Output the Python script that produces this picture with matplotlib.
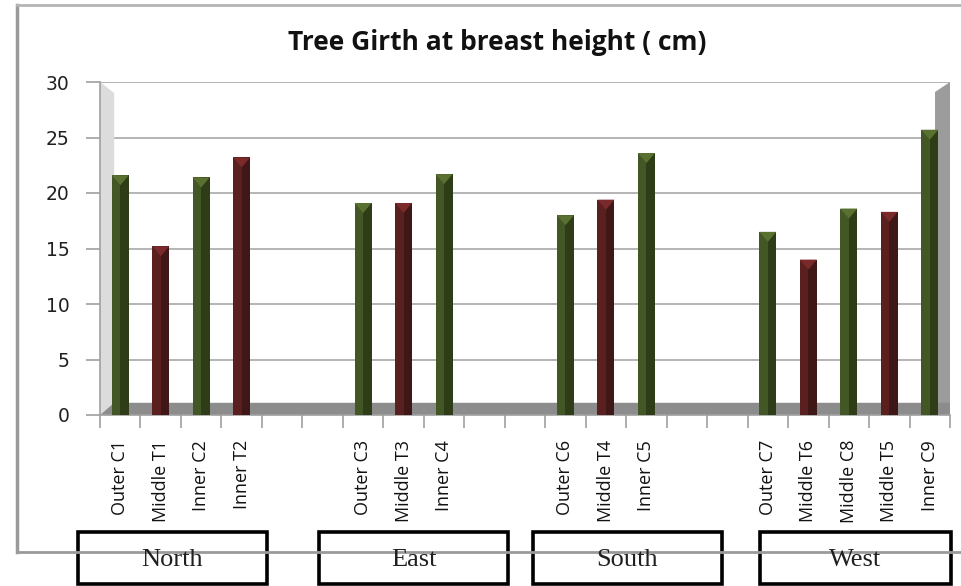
import matplotlib.pyplot as plt
from matplotlib.patches import Rectangle, Polygon
from matplotlib.lines import Line2D

# data
labels = ["Outer C1", "Middle T1", "Inner C2", "Inner T2", "", "",
          "Outer C3", "Middle T3", "Inner C4", "", "",
          "Outer C6", "Middle T4", "Inner C5", "", "",
          "Outer C7", "Middle T6", "Middle C8", "Middle T5", "Inner C9"]
girth = [21.6, 15.2, 21.4, 23.2, None, None,
         19.1, 19.1, 21.7, None, None,
         18.0, 19.4, 23.6, None, None,
         16.5, 14.0, 18.6, 18.3, 25.7]
regions = ["North", "East", "South", "West"]
region_px = [(78, 267), (319, 508), (533, 722), (760, 951)]

W, H = 961, 586
fig = plt.figure(figsize=(W / 100, H / 100), dpi=100)

def fx(px):
    return px / W

def fy(py):
    return 1 - py / H

# outer chart border
fig.add_artist(Line2D([fx(17), fx(17)], [fy(5), fy(552)], color="#9a9a9a", lw=2.5))
fig.add_artist(Line2D([fx(17), 1], [fy(5), fy(5)], color="#b4b4b4", lw=2))
fig.add_artist(Line2D([fx(17), 1], [fy(552), fy(552)], color="#9a9a9a", lw=2))

ax = fig.add_axes([fx(100), fy(415), fx(950) - fx(100), fy(82) - fy(415)])
n = len(labels)
ax.set_xlim(-0.5, n - 0.5)
ax.set_ylim(0, 30)

# 3d-ish walls and floor
ax.add_patch(Polygon([(-0.5, 0), (-0.5, 30), (-0.15, 29.0), (-0.15, 1.1)],
                     closed=True, fc="#dcdcdc", ec="none", zorder=1))
ax.add_patch(Polygon([(20.13, 1.1), (20.13, 29.1), (20.5, 30), (20.5, 0)],
                     closed=True, fc="#9c9c9c", ec="none", zorder=1))
ax.add_patch(Polygon([(-0.5, 0), (-0.15, 1.1), (20.5, 1.1), (20.5, 0)],
                     closed=True, fc="#8c8c8c", ec="none", zorder=2))

ax.set_yticks(range(0, 31, 5))
ax.yaxis.grid(True, color="#a8a8a8", lw=1.2)
ax.set_axisbelow(True)

for i, v in enumerate(girth):
    if v is None:
        continue
    if "C" in labels[i]:
        light, dark, top = "#435626", "#2f3c18", "#5a7030"
    else:
        light, dark, top = "#5a2020", "#3f1716", "#7a2a2a"
    ax.bar(i, v, width=0.42, color=dark, zorder=3)
    ax.bar(i - 0.105, v, width=0.21, color=light, zorder=3)
    # bevelled top
    ax.add_patch(Polygon([(i - 0.21, v), (i + 0.21, v), (i, v - 0.9)],
                         closed=True, fc=top, ec="none", zorder=4))

for s in ["top", "right"]:
    ax.spines[s].set_visible(False)
for s in ["left", "bottom"]:
    ax.spines[s].set_color("#a0a0a0")
    ax.spines[s].set_linewidth(1.2)

ax.set_xticks([i - 0.5 for i in range(n + 1)], minor=True)
ax.set_xticks(range(n))
ax.set_xticklabels(labels, rotation=90, fontfamily="Open Sans", fontsize=13,
                   va="top", ha="center", color="#111111")
ax.tick_params(axis="x", which="major", length=0, pad=18)
ax.tick_params(axis="x", which="minor", length=9, color="#a0a0a0", width=1.2)
ax.tick_params(axis="y", length=10, color="#a0a0a0", width=1.2, pad=12,
               labelsize=13.5, labelcolor="#202020")
for t in ax.get_yticklabels():
    t.set_fontfamily("DejaVu Sans")

fig.text(fx(497), fy(43), "Tree Girth at breast height ( cm)", ha="center",
         va="center", fontsize=19, fontweight="bold", fontfamily="Open Sans",
         color="#111111")

# region boxes
for name, (x0, x1) in zip(regions, region_px):
    fig.add_artist(Rectangle((fx(x0), fy(584)), fx(x1) - fx(x0), fy(532) - fy(584),
                             fill=True, fc="white", ec="black", lw=2.6))
    fig.text(fx((x0 + x1) / 2), fy(560), name, ha="center", va="center",
             fontsize=19, fontfamily="Liberation Serif", color="#202020")

fig.savefig("out.png", dpi=100)
